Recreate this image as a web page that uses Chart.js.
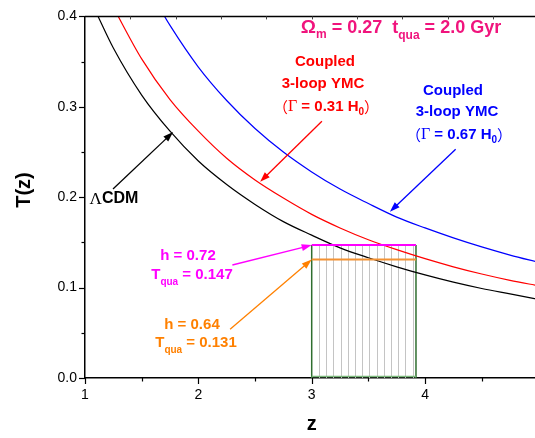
<!DOCTYPE html>
<html>
<head>
<meta charset="utf-8">
<script src="https://cdn.jsdelivr.net/npm/chart.js@4/dist/chart.umd.min.js"></script>
<style>
  body { margin: 0; background: #fff; }
  #wrap { width: 535px; height: 438px; }
</style>
</head>
<body>
<div id="wrap"><canvas id="chart" width="535" height="438"></canvas></div>
<script>
// values
const Z_LCDM = [1.1, 1.25, 1.5, 1.75, 2, 2.25, 2.5, 2.75, 3, 3.25, 3.5, 3.75, 4, 4.25, 4.5, 4.75, 5];
const T_LCDM = [0.404, 0.365, 0.313, 0.273, 0.240, 0.214, 0.192, 0.173, 0.158, 0.144, 0.133, 0.123, 0.114, 0.106, 0.099, 0.093, 0.087];

const Z_RED = [1.25, 1.5, 1.75, 2, 2.25, 2.5, 2.75, 3, 3.25, 3.5, 3.75, 4, 4.25, 4.5, 4.75, 5];
const T_RED = [0.410, 0.353, 0.308, 0.273, 0.243, 0.219, 0.199, 0.181, 0.166, 0.153, 0.142, 0.132, 0.123, 0.115, 0.108, 0.102];

const Z_BLUE = [1.6, 1.75, 2, 2.25, 2.5, 2.75, 3, 3.25, 3.5, 3.75, 4, 4.25, 4.5, 4.75, 5];
const T_BLUE = [0.422, 0.390, 0.344, 0.307, 0.276, 0.250, 0.228, 0.209, 0.193, 0.178, 0.166, 0.155, 0.145, 0.136, 0.128];

// quasar age box (z range) and the two T_qua levels
const Z_BOX = [3, 3.92];
const T_QUA = [0.147, 0.131];   // h = 0.72, h = 0.64

const X_TICKS = [1, 2, 3, 4];
const Y_TICKS = [0.0, 0.1, 0.2, 0.3, 0.4];

const toPts = (xs, ys) => xs.map((x, i) => ({ x: x, y: ys[i] }));

const SANS = '"Liberation Sans", Arial, sans-serif';
const SERIF = '"Liberation Serif", "Times New Roman", serif';
const CJK = '"Noto Sans CJK SC", sans-serif';

function arrow(ctx, x1, y1, x2, y2, color) {
    const ang = Math.atan2(y2 - y1, x2 - x1);
    const len = 10, hw = 3.5;
    ctx.save();
    ctx.strokeStyle = color;
    ctx.fillStyle = color;
    ctx.lineWidth = 1.3;
    ctx.beginPath();
    ctx.moveTo(x1, y1);
    ctx.lineTo(x2 - len * Math.cos(ang) * 0.8, y2 - len * Math.sin(ang) * 0.8);
    ctx.stroke();
    ctx.beginPath();
    ctx.moveTo(x2, y2);
    ctx.lineTo(x2 - len * Math.cos(ang) - hw * Math.sin(ang), y2 - len * Math.sin(ang) + hw * Math.cos(ang));
    ctx.lineTo(x2 - len * Math.cos(ang) + hw * Math.sin(ang), y2 - len * Math.sin(ang) - hw * Math.cos(ang));
    ctx.closePath();
    ctx.fill();
    ctx.restore();
}

// runs: [text, font, dy]
function runs(ctx, parts, cx, cy, color) {
    ctx.save();
    ctx.fillStyle = color;
    ctx.textBaseline = 'middle';
    ctx.textAlign = 'left';
    let w = 0;
    parts.forEach(p => { ctx.font = p[1]; w += ctx.measureText(p[0]).width; });
    let x = cx - w / 2;
    parts.forEach(p => {
        ctx.font = p[1];
        ctx.fillText(p[0], x, cy + (p[2] || 0));
        x += ctx.measureText(p[0]).width;
    });
    ctx.restore();
}

const decor = {
    id: 'decor',
    beforeDatasetsDraw(chart) {
        const { ctx, scales: { x, y } } = chart;
        const xl = x.getPixelForValue(Z_BOX[0]), xr = x.getPixelForValue(Z_BOX[1]);
        const yt = y.getPixelForValue(T_QUA[0]), yb = y.getPixelForValue(0);
        ctx.save();
        // vertical hatching
        ctx.strokeStyle = '#c4c4c4';
        ctx.lineWidth = 1;
        for (let px = xl + 7.2; px < xr - 2; px += 7.2) {
            ctx.beginPath();
            ctx.moveTo(Math.round(px) + 0.5, yt);
            ctx.lineTo(Math.round(px) + 0.5, yb);
            ctx.stroke();
        }
        ctx.strokeStyle = '#2f6e2f';
        ctx.lineWidth = 1.5;
        ctx.beginPath();
        ctx.moveTo(xl, yb); ctx.lineTo(xl, yt);
        ctx.moveTo(xr, yb); ctx.lineTo(xr, yt);
        ctx.stroke();
        ctx.strokeStyle = '#7ab87a';
        ctx.beginPath();
        ctx.moveTo(xl, yb - 1.5); ctx.lineTo(xr, yb - 1.5);
        ctx.stroke();
        ctx.restore();
    },
    afterDraw(chart) {
        const { ctx, chartArea: ca, scales: { x, y } } = chart;
        const X = v => x.getPixelForValue(v), Y = v => y.getPixelForValue(v);
        ctx.save();
        ctx.strokeStyle = '#000';
        ctx.lineWidth = 1.5;
        // top frame line
        ctx.beginPath();
        ctx.moveTo(ca.left, ca.top); ctx.lineTo(ca.right, ca.top);
        ctx.stroke();
        // x ticks (major + minor), outward
        ctx.lineWidth = 1.2;
        for (let v = 1; v <= 4.9; v += 0.5) {
            const px = Math.round(X(v)) + 0.5;
            const major = Math.abs(v - Math.round(v)) < 1e-6;
            ctx.beginPath();
            ctx.moveTo(px, ca.bottom); ctx.lineTo(px, ca.bottom + (major ? 6 : 3.5));
            ctx.stroke();
        }
        // y ticks, outward
        for (let i = 0; i <= 8; i++) {
            const py = Math.round(Y(i * 0.05)) + 0.5;
            ctx.beginPath();
            ctx.moveTo(ca.left, py); ctx.lineTo(ca.left - (i % 2 === 0 ? 6 : 3.5), py);
            ctx.stroke();
        }
        // top ticks, inward
        ctx.lineWidth = 1;
        ctx.strokeStyle = '#444';
        for (let v = 1.4; v < 4.95; v += 0.4) {
            const px = Math.round(X(v)) + 0.5;
            ctx.beginPath();
            ctx.moveTo(px, ca.top); ctx.lineTo(px, ca.top + 3);
            ctx.stroke();
        }
        ctx.restore();

        // arrows
        arrow(ctx, X(1.247), Y(0.209), X(1.777), Y(0.272), '#000');
        arrow(ctx, X(3.09), Y(0.284), X(2.545), Y(0.217), '#ff0000');
        arrow(ctx, X(4.27), Y(0.253), X(3.69), Y(0.184), '#0000ff');
        arrow(ctx, X(2.30), Y(0.125), X(Z_BOX[0]), Y(T_QUA[0]), '#ff00ff');
        arrow(ctx, X(2.28), Y(0.054), X(Z_BOX[0]), Y(T_QUA[1]), '#ff8000');

        // axis titles
        ctx.save();
        ctx.fillStyle = '#000';
        ctx.font = 'bold 20px ' + SANS;
        ctx.textAlign = 'center';
        ctx.textBaseline = 'middle';
        ctx.fillText('z', X(3), 424);
        ctx.translate(24, 190);
        ctx.rotate(-Math.PI / 2);
        ctx.fillText('T(z)', 0, 0);
        ctx.restore();

        const B15 = 'bold 15px ' + SANS, SUB = 'bold 10px ' + SANS;
        // header
        const B18 = 'bold 18px ' + SANS, SUB12 = 'bold 12px ' + SANS;
        runs(ctx, [['Ω', 'bold 19px ' + SANS], ['m', SUB12, 7], [' = 0.27  t', B18], ['qua', SUB12, 8], [' = 2.0 Gyr', B18]],
            401, 28, '#f0147d');

        // ΛCDM
        runs(ctx, [['Λ', '17px ' + SERIF, 1], ['CDM', 'bold 16px ' + SANS]], 114, 199, '#000');

        // red label
        runs(ctx, [['Coupled', B15]], 325, 62, '#ff0000');
        runs(ctx, [['3-loop YMC', B15]], 323, 84, '#ff0000');
        runs(ctx, [['（', '15px ' + CJK], ['Γ', '16px ' + SERIF], [' = 0.31 H', B15], ['0', SUB, 5], ['）', '15px ' + CJK]],
            326, 107, '#ff0000');

        // blue label
        runs(ctx, [['Coupled', B15]], 453, 91, '#0000ff');
        runs(ctx, [['3-loop YMC', B15]], 457, 112, '#0000ff');
        runs(ctx, [['（', '15px ' + CJK], ['Γ', '16px ' + SERIF], [' = 0.67 H', B15], ['0', SUB, 5], ['）', '15px ' + CJK]],
            459, 135, '#0000ff');

        // h labels
        runs(ctx, [['h = 0.72', B15]], 188, 256, '#ff00ff');
        runs(ctx, [['T', B15], ['qua', SUB, 7], [' = 0.147', B15]], 192, 275, '#ff00ff');
        runs(ctx, [['h = 0.64', B15]], 192, 325, '#ff8000');
        runs(ctx, [['T', B15], ['qua', SUB, 7], [' = 0.131', B15]], 196, 343, '#ff8000');
    }
};

const line = (data, color, width) => ({
    data: data,
    borderColor: color,
    borderWidth: width,
    pointRadius: 0,
    fill: false,
    cubicInterpolationMode: 'monotone'
});

new Chart(document.getElementById('chart'), {
    type: 'line',
    data: {
        datasets: [
            line(toPts(Z_BOX, [T_QUA[1], T_QUA[1]]), '#f39232', 2),
            line(toPts(Z_BOX, [T_QUA[0], T_QUA[0]]), '#ff00ff', 2),
            line(toPts(Z_LCDM, T_LCDM), '#000000', 1.2),
            line(toPts(Z_RED, T_RED), '#ff0000', 1.2),
            line(toPts(Z_BLUE, T_BLUE), '#0000ff', 1.2)
        ]
    },
    options: {
        responsive: false,
        animation: false,
        layout: { padding: { left: 0, right: 0, top: 10, bottom: 0 } },
        plugins: { legend: { display: false }, tooltip: { enabled: false } },
        scales: {
            x: {
                type: 'linear',
                min: 1,
                max: 4.97,
                afterFit: s => { s.height = 60; },
                afterBuildTicks: s => { s.ticks = X_TICKS.map(v => ({ value: v })); },
                grid: { display: false, drawTicks: false },
                border: { display: true, color: '#000', width: 1.5 },
                ticks: {
                    padding: 9,
                    color: '#000',
                    font: { family: SANS, size: 14 },
                    callback: v => String(v)
                }
            },
            y: {
                min: 0,
                max: 0.4,
                afterFit: s => { s.width = 85; },
                afterBuildTicks: s => { s.ticks = Y_TICKS.map(v => ({ value: v })); },
                grid: { display: false, drawTicks: false },
                border: { display: true, color: '#000', width: 1.5 },
                ticks: {
                    padding: 8,
                    color: '#000',
                    font: { family: SANS, size: 14 },
                    callback: v => v.toFixed(1)
                }
            }
        }
    },
    plugins: [decor]
});
</script>
</body>
</html>
